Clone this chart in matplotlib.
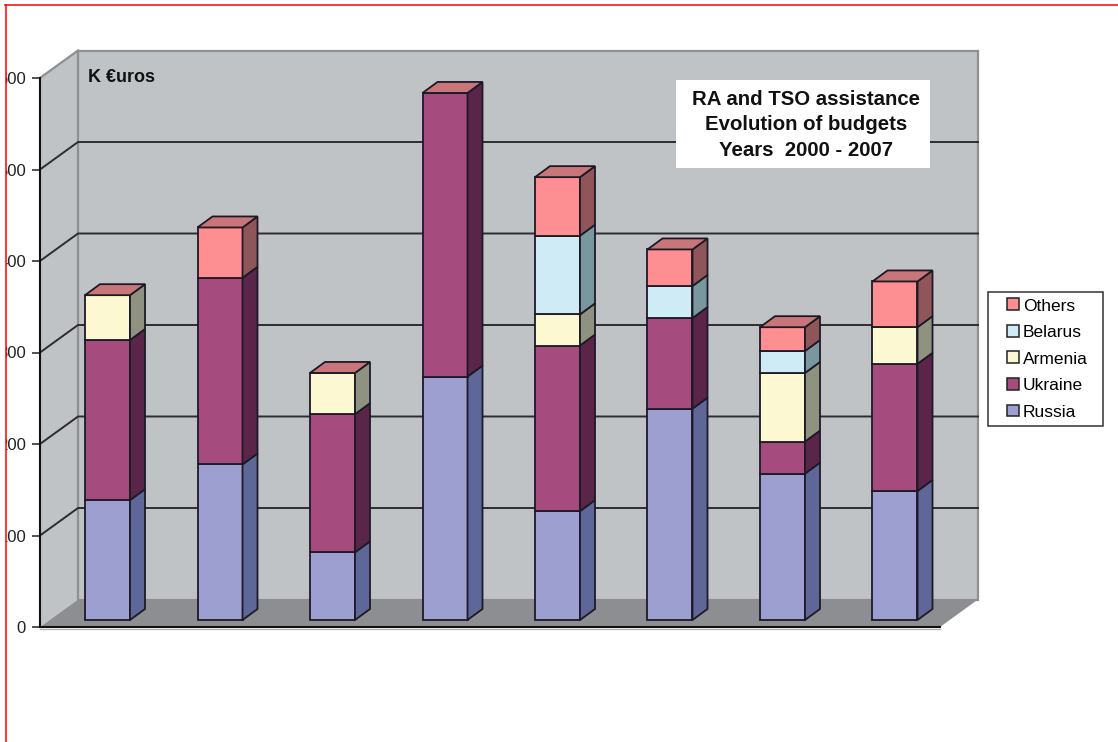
import matplotlib
matplotlib.use('Agg')
import matplotlib.pyplot as plt
from matplotlib.patches import Patch, Polygon, Rectangle
from matplotlib.transforms import Bbox
import numpy as np

plt.rcParams['font.family'] = ['Liberation Sans', 'DejaVu Sans']

W, H = 1118, 742

years = [2000, 2001, 2002, 2003, 2004, 2005, 2006, 2007]
russia = [131, 170, 74, 266, 119, 231, 160, 141]
ukraine = [175, 204, 151, 310, 181, 99, 35, 139]
armenia = [49, 0, 45, 0, 34, 0, 75, 40]
belarus = [0, 0, 0, 0, 86, 35, 24, 0]
others = [0, 55, 0, 0, 64, 40, 26, 50]

series_names = ['Russia', 'Ukraine', 'Armenia', 'Belarus', 'Others']
series_values = [russia, ukraine, armenia, belarus, others]
front_colors = ['#9C9FCF', '#A64B7E', '#FBF8D2', '#CEEBF6', '#FD8F93']
side_colors = ['#5F6798', '#5A2548', '#8F9280', '#79979E', '#905558']
top_color = '#C9767A'

y_ticks = [0, 100, 200, 300, 400, 500, 600]
title_lines = 'RA and TSO assistance\nEvolution of budgets\nYears  2000 - 2007'

WALL = '#C0C3C6'
FLOOR = '#8C8E91'
EDGE = '#1C1A26'

# scale of the chart: one category is 112.5 px wide, 100 units are 91.5 px
X_SCALE = 112.5
Y_SCALE = 0.915
X0_PX, Y0_PX = 40, 627

# depth of the box and of the bars, in data units
BOX_DX, BOX_DY = 38 / X_SCALE, 27.5 / Y_SCALE
BAR_DX, BAR_DY = 15 / X_SCALE, 11 / Y_SCALE
BAR_W = 45 / X_SCALE
BAR_SHIFT = 0.1
BAR_LIFT = 7 / Y_SCALE


def px(x, y):
    return x / W, 1 - y / H


fig = plt.figure(figsize=(W / 100, H / 100), dpi=100)
ax = fig.add_axes([0, 0, 1, 1])
ax.set_xlim(-0.5 - X0_PX / X_SCALE, -0.5 + (W - X0_PX) / X_SCALE)
ax.set_ylim((Y0_PX - H) / Y_SCALE, Y0_PX / Y_SCALE)

x_left, x_right = -0.5, len(years) - 0.5
top = y_ticks[-1]

# walls and floor of the 3D box
ax.add_patch(Polygon([(x_left, 0), (x_left + BOX_DX, BOX_DY), (x_left + BOX_DX, top + BOX_DY), (x_left, top)],
                     facecolor=WALL, edgecolor='none', zorder=1))
ax.add_patch(Rectangle((x_left + BOX_DX, BOX_DY), x_right - x_left, top, facecolor=WALL,
                       edgecolor='#8E9092', linewidth=1.6, zorder=1))
ax.plot([x_left, x_left + BOX_DX], [top, top + BOX_DY], color='#8E9092', linewidth=1.6, zorder=1.5)
ax.add_patch(Polygon([(x_left, 0), (x_right, 0), (x_right + BOX_DX, BOX_DY), (x_left + BOX_DX, BOX_DY)],
                     facecolor=FLOOR, edgecolor='none', zorder=1.2))

# gridlines run along the left wall and across the back wall
for v in y_ticks[1:-1]:
    ax.plot([x_left, x_left + BOX_DX, x_right + BOX_DX], [v, v + BOX_DY, v + BOX_DY],
            color='#2E2C30', linewidth=1.4, zorder=1.5)

# stacked bars, left to right
xs = np.arange(len(years)) + BAR_SHIFT
for i, x in enumerate(xs):
    base = BAR_LIFT
    for vals, front, side in zip(series_values, front_colors, side_colors):
        v = vals[i]
        if v == 0:
            continue
        ax.bar(x, v, BAR_W, bottom=base, color=front, edgecolor=EDGE, linewidth=1.3, zorder=3)
        r = x + BAR_W / 2
        ax.add_patch(Polygon([(r, base), (r + BAR_DX, base + BAR_DY), (r + BAR_DX, base + v + BAR_DY), (r, base + v)],
                             facecolor=side, edgecolor=EDGE, linewidth=1.3, zorder=3))
        base += v
    l, r = x - BAR_W / 2, x + BAR_W / 2
    ax.add_patch(Polygon([(l, base), (r, base), (r + BAR_DX, base + BAR_DY), (l + BAR_DX, base + BAR_DY)],
                         facecolor=top_color, edgecolor=EDGE, linewidth=1.3, zorder=3))

# axes lines sit on the front of the box
for s in ['top', 'right']:
    ax.spines[s].set_visible(False)
ax.spines['left'].set_position(('data', x_left))
ax.spines['left'].set_bounds(0, top)
ax.spines['bottom'].set_position(('data', 0))
ax.spines['bottom'].set_bounds(x_left, x_right)
for s in ['left', 'bottom']:
    ax.spines[s].set_color('#111111')
    ax.spines[s].set_linewidth(1.5)
    ax.spines[s].set_zorder(4)
ax.plot([x_left, x_right], [-1.8, -1.8], color='#B4B4B4', linewidth=1, zorder=1)
ax.set_xticks([])
ax.set_yticks(y_ticks)
ax.tick_params(axis='y', length=6, width=1.2, color='#333333', pad=4, labelsize=12, labelcolor='#222222')

# labels are cut off by the left border of the page
for lab in ax.get_yticklabels():
    lab.set_clip_box(Bbox([[6, 0], [W, H]]))
    lab.set_clip_on(True)

ax.text(*px(88, 77), 'K €uros', transform=fig.transFigure, fontsize=13, fontweight='bold',
        color='#111111', ha='left', va='center', zorder=5)

# title box
tx, ty = px(676, 168)
tw, th = 254 / W, 88 / H
ax.add_patch(Rectangle((tx, ty), tw, th, transform=fig.transFigure, facecolor='white',
                       edgecolor='none', zorder=5))
ax.text(*px(806, 125), title_lines, transform=fig.transFigure, fontsize=14.7, fontweight='bold',
        color='#111111', ha='center', va='center', linespacing=1.44, zorder=6)

# legend with its own frame
lx, ly = px(988, 426)
ax.add_patch(Rectangle((lx, ly), 115 / W, 134 / H, transform=fig.transFigure, facecolor='white',
                       edgecolor='#333333', linewidth=1.1, zorder=5))
handles = [Patch(facecolor=c, edgecolor='#222222', linewidth=1.1, label=n)
           for n, c in zip(series_names, front_colors)][::-1]
leg = ax.legend(handles=handles, loc='upper left', bbox_to_anchor=px(1003.5, 295), frameon=False,
                bbox_transform=fig.transFigure, fontsize=12.5, handlelength=0.68, handleheight=0.68,
                handletextpad=0.23, labelspacing=0.66, borderpad=0.2, borderaxespad=0)
leg.set_zorder(6)

# red page border
fig.add_artist(plt.Line2D([5.5 / W, 5.5 / W], [0, 1 - 5 / H], color='#FF0000', linewidth=1.1))
fig.add_artist(plt.Line2D([5 / W, 1], [1 - 5 / H, 1 - 5 / H], color='#FF0000', linewidth=1.1))

fig.savefig('out.png', dpi=100)
